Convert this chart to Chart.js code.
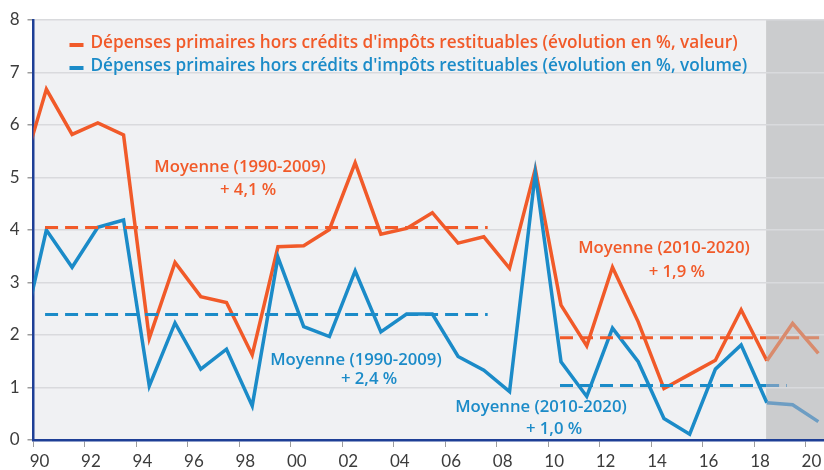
<!DOCTYPE html>
<html>
<head>
<meta charset="utf-8">
<script src="https://cdn.jsdelivr.net/npm/chart.js@4.4.1/dist/chart.umd.min.js"></script>
<style>
  html, body { margin: 0; padding: 0; background: #fff; }
  canvas { display: block; }
</style>
</head>
<body>
<canvas id="depenses" width="824" height="470"></canvas>
<script>
// années (1989 sert seulement au segment coupé à gauche)
const years = [1989, 1990, 1991, 1992, 1993, 1994, 1995, 1996, 1997, 1998, 1999, 2000, 2001, 2002, 2003, 2004,
    2005, 2006, 2007, 2008, 2009, 2010, 2011, 2012, 2013, 2014, 2015, 2016, 2017, 2018, 2019, 2020];
const valeur = [5.02, 6.68, 5.82, 6.04, 5.81, 1.94, 3.38, 2.73, 2.62, 1.62, 3.68, 3.70, 4.01, 5.28, 3.92, 4.03,
    4.33, 3.75, 3.87, 3.27, 5.16, 2.57, 1.79, 3.29, 2.25, 0.98, 1.25, 1.52, 2.48, 1.51, 2.22, 1.65];
const volume = [1.84, 4.00, 3.29, 4.05, 4.19, 1.03, 2.23, 1.35, 1.73, 0.65, 3.48, 2.16, 1.97, 3.22, 2.06, 2.40,
    2.40, 1.59, 1.33, 0.92, 5.08, 1.49, 0.83, 2.13, 1.49, 0.41, 0.11, 1.35, 1.81, 0.71, 0.67, 0.35];

// moyennes
const moyValeur1 = 4.05, moyVolume1 = 2.39;   // 1990-2009
const moyValeur2 = 1.95, moyVolume2 = 1.04;   // 2010-2020
const span1 = [1990.45, 2007.65];
const spanValeur2 = [2010.46, 2020.72];
const spanVolume2 = [2010.46, 2019.28];

const forecastStart = 2018.47;
const xMin = 1990, xMax = 2020.72;
const yTicks = [0, 1, 2, 3, 4, 5, 6, 7, 8];

const legendLabels = [
    "Dépenses primaires hors crédits d'impôts restituables (évolution en %, valeur)",
    "Dépenses primaires hors crédits d'impôts restituables (évolution en %, volume)"
];
const notes = [
    { text: 'Moyenne (1990-2009)', x: 1998.03, y: 5.2, color: 'orange' },
    { text: '+ 4,1 %', x: 1998.34, y: 4.75, color: 'orange' },
    { text: 'Moyenne (1990-2009)', x: 2002.53, y: 1.52, color: 'blue' },
    { text: '+ 2,4 %', x: 2003.04, y: 1.16, color: 'blue' },
    { text: 'Moyenne (2010-2020)', x: 2014.5, y: 3.65, color: 'orange' },
    { text: '+ 1,9 %', x: 2015.0, y: 3.2, color: 'orange' },
    { text: 'Moyenne (2010-2020)', x: 2009.72, y: 0.63, color: 'blue' },
    { text: '+ 1,0 %', x: 2010.23, y: 0.2, color: 'blue' }
];

const COL = {
    orange: '#F15A29', orangeSoft: '#D98B6D',
    blue: '#1B8BC8', blueSoft: '#6D9DC3',
    axis: '#1E3F96', grid: '#D9DADD', bg: '#F0F1F3', shade: '#CBCCCE', text: '#3C3C3C'
};
const FONT = '"Open Sans", Lato, sans-serif';
const TICKFONT = 'Lato, "DejaVu Sans", sans-serif';

const pts = (vals) => years.map((y, i) => ({ x: y + 0.5, y: vals[i] }));
const flat = (span, v, split) => {
    const arr = [{ x: span[0], y: v }];
    if (split && span[1] > forecastStart) arr.push({ x: forecastStart, y: v });
    arr.push({ x: span[1], y: v });
    return arr;
};
const soft = (color, softColor) => ctx => ctx.p0.parsed.x >= forecastStart - 0.01 ? softColor : color;

const backgroundPlugin = {
    id: 'fond',
    beforeDraw(chart) {
        const { ctx, chartArea: a, scales } = chart;
        ctx.save();
        ctx.fillStyle = COL.bg;
        ctx.fillRect(a.left, a.top, a.right - a.left, a.bottom - a.top);
        const xs = scales.x.getPixelForValue(forecastStart);
        ctx.fillStyle = COL.shade;
        ctx.fillRect(xs, a.top, a.right - xs, a.bottom - a.top);
        ctx.restore();
    },
    afterDraw(chart) {
        const { ctx, chartArea: a, scales } = chart;
        ctx.save();
        ctx.font = '600 16.7px ' + FONT;
        ctx.textBaseline = 'middle';
        ctx.textAlign = 'center';
        notes.forEach(n => {
            ctx.fillStyle = COL[n.color];
            ctx.fillText(n.text, scales.x.getPixelForValue(n.x), scales.y.getPixelForValue(n.y));
        });
        // légende
        ctx.font = '600 17.2px ' + FONT;
        ctx.textAlign = 'left';
        [COL.orange, COL.blue].forEach((c, i) => {
            const y = a.top + 23 + i * 23;
            ctx.fillStyle = c;
            ctx.fillRect(a.left + 36, y, 14, 4);
            ctx.fillText(legendLabels[i], a.left + 57, y);
        });
        ctx.restore();
    }
};

new Chart(document.getElementById('depenses'), {
    type: 'line',
    data: {
        datasets: [
            {
                label: 'moyenne valeur 1990-2009',
                data: flat(span1, moyValeur1),
                borderColor: COL.orange, borderWidth: 3, borderDash: [13, 7]
            },
            {
                label: 'moyenne volume 1990-2009',
                data: flat(span1, moyVolume1),
                borderColor: COL.blue, borderWidth: 3, borderDash: [13, 7]
            },
            {
                label: 'moyenne valeur 2010-2020',
                data: flat(spanValeur2, moyValeur2, true),
                borderColor: COL.orange, borderWidth: 3, borderDash: [13, 7],
                segment: { borderColor: soft(COL.orange, COL.orangeSoft) }
            },
            {
                label: 'moyenne volume 2010-2020',
                data: flat(spanVolume2, moyVolume2, true),
                borderColor: COL.blue, borderWidth: 3, borderDash: [13, 7],
                segment: { borderColor: soft(COL.blue, COL.blueSoft) }
            },
            {
                label: legendLabels[1],
                data: pts(volume),
                borderColor: COL.blue, borderWidth: 3.5,
                segment: { borderColor: soft(COL.blue, COL.blueSoft) }
            },
            {
                label: legendLabels[0],
                data: pts(valeur),
                borderColor: COL.orange, borderWidth: 3.5,
                segment: { borderColor: soft(COL.orange, COL.orangeSoft) }
            }
        ]
    },
    options: {
        responsive: false,
        animation: false,
        devicePixelRatio: 1,
        layout: { padding: { top: 20, left: 0, right: 0, bottom: 0 } },
        elements: {
            point: { radius: 0 },
            line: { tension: 0, borderCapStyle: 'butt', borderJoinStyle: 'miter' }
        },
        plugins: {
            legend: { display: false },
            tooltip: { enabled: false }
        },
        scales: {
            x: {
                type: 'linear',
                min: xMin,
                max: xMax,
                afterFit: s => { s.height = 30; },
                border: { color: COL.axis, width: 2.5 },
                grid: { drawOnChartArea: false, drawTicks: true, tickLength: 7, color: '#9C9C9C' },
                ticks: {
                    stepSize: 2,
                    includeBounds: false,
                    autoSkip: false,
                    maxRotation: 0,
                    labelOffset: 6,
                    padding: 4,
                    color: COL.text,
                    font: { family: TICKFONT, size: 17 },
                    callback: v => String(v % 100).padStart(2, '0')
                }
            },
            y: {
                min: 0,
                max: 8,
                afterFit: s => { s.width = 33.5; },
                afterBuildTicks: s => { s.ticks = yTicks.map(v => ({ value: v })); },
                border: { color: COL.axis, width: 2.5 },
                grid: { color: COL.grid, lineWidth: 1.5, tickLength: 6, tickColor: '#9C9C9C' },
                ticks: {
                    padding: 8,
                    color: COL.text,
                    font: { family: TICKFONT, size: 17 }
                }
            }
        }
    },
    plugins: [backgroundPlugin]
});
</script>
</body>
</html>
